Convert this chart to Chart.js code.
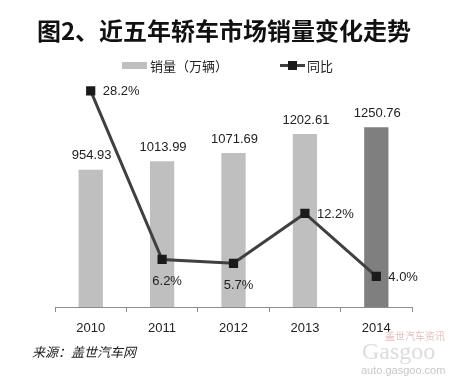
<!DOCTYPE html>
<html><head><meta charset="utf-8">
<script src="https://cdn.jsdelivr.net/npm/chart.js@4"></script>
<style>html,body{margin:0;padding:0;background:#fff;}#wrap{position:relative;width:449px;height:378px;}</style>
</head><body><div id="wrap"><canvas id="c" width="449" height="378"></canvas></div>
<script>
const categories = ['2010','2011','2012','2013','2014'];
const sales = [954.93, 1013.99, 1071.69, 1202.61, 1250.76];
const growth = [28.2, 6.2, 5.7, 12.2, 4.0];
const salesLabels = ['954.93','1013.99','1071.69','1202.61','1250.76'];
const growthLabels = ['28.2%','6.2%','5.7%','12.2%','4.0%'];
const titleText = '图2、近五年轿车市场销量变化走势';
const legendSales = '销量（万辆）';
const legendGrowth = '同比';
const sourceText = '来源：盖世汽车网';

const FONT = '"Liberation Sans", Arial, "Noto Sans CJK SC", sans-serif';
const CJK = '"Noto Sans CJK SC", "Liberation Sans", sans-serif';
const barColors = ['#BFBFBF','#BFBFBF','#BFBFBF','#BFBFBF','#7F7F7F'];
const growthBelow = [false, true, true, false, false];

const decor = {
  id: 'decor',
  afterDatasetsDraw(chart) {
    const ctx = chart.ctx;
    ctx.save();
    const barMeta = chart.getDatasetMeta(0);
    ctx.fillStyle = '#222';
    ctx.font = '13px ' + FONT;
    ctx.textAlign = 'center';
    ctx.textBaseline = 'middle';
    barMeta.data.forEach((el, i) => {
      ctx.fillText(salesLabels[i], el.x + 1, el.y - 14);
    });
    const lineMeta = chart.getDatasetMeta(1);
    lineMeta.data.forEach((el, i) => {
      if (growthBelow[i]) {
        ctx.textAlign = 'center';
        ctx.fillText(growthLabels[i], el.x + 5, el.y + 22);
      } else {
        ctx.textAlign = 'left';
        ctx.fillText(growthLabels[i], el.x + 12, el.y + 1);
      }
    });
    ctx.restore();
  },
  afterDraw(chart) {
    const ctx = chart.ctx;
    ctx.save();
    ctx.fillStyle = '#111';
    ctx.font = 'bold 24px ' + CJK;
    ctx.textAlign = 'center';
    ctx.textBaseline = 'middle';
    ctx.fillText(titleText, 224, 31);
    ctx.font = '13px ' + CJK;
    ctx.textAlign = 'left';
    ctx.fillStyle = '#BFBFBF';
    ctx.fillRect(122, 62, 25, 7);
    ctx.fillStyle = '#222';
    ctx.fillText(legendSales, 150, 66);
    ctx.strokeStyle = '#404040';
    ctx.lineWidth = 3;
    ctx.beginPath(); ctx.moveTo(280, 65.5); ctx.lineTo(305, 65.5); ctx.stroke();
    ctx.fillStyle = '#1a1a1a';
    ctx.fillRect(288, 61, 9, 9);
    ctx.fillStyle = '#222';
    ctx.fillText(legendGrowth, 307, 66);
    ctx.font = 'italic 13px ' + CJK;
    ctx.fillStyle = '#222';
    ctx.fillText(sourceText, 32, 352);
    ctx.font = '24px "Liberation Serif", serif';
    ctx.fillStyle = '#dcdcdc';
    ctx.fillText('Gasgoo', 362, 353);
    ctx.font = '10px ' + CJK;
    ctx.fillStyle = '#e6c0c0';
    ctx.fillText('盖世汽车资讯', 385, 336);
    ctx.font = '11px ' + FONT;
    ctx.fillStyle = '#c8c8c8';
    ctx.fillText('auto.gasgoo.com', 361, 371);
    ctx.restore();
  }
};

new Chart(document.getElementById('c'), {
  data: {
    labels: categories,
    datasets: [
      {
        type: 'bar', label: legendSales, data: sales, yAxisID: 'y',
        backgroundColor: barColors, borderWidth: 0,
        categoryPercentage: 1, barPercentage: 0.34, order: 1
      },
      {
        type: 'line', label: legendGrowth, data: growth, yAxisID: 'y1',
        borderColor: '#404040', borderWidth: 3, tension: 0,
        pointStyle: 'rect', pointRadius: 6.5, pointHoverRadius: 6.5,
        pointBackgroundColor: '#1a1a1a', pointBorderColor: '#1a1a1a', pointBorderWidth: 0,
        order: 0
      }
    ]
  },
  options: {
    responsive: false,
    animation: false,
    devicePixelRatio: 1,
    layout: { padding: { left: 55, right: 37, top: 77, bottom: 0 } },
    plugins: { legend: { display: false }, title: { display: false }, tooltip: { enabled: false } },
    scales: {
      x: {
        offset: true,
        grid: { offset: true, drawOnChartArea: false, drawTicks: true, tickLength: 5, color: '#8c8c8c', lineWidth: 1 },
        border: { display: true, color: '#8c8c8c', width: 1 },
        ticks: { color: '#222', font: { family: FONT, size: 13 }, padding: 9, maxRotation: 0 },
        afterFit(scale) { scale.height = 71; }
      },
      y: { display: false, min: 0, max: 1600 },
      y1: { display: false, min: 0, max: 30, position: 'right' }
    }
  },
  plugins: [decor]
});
</script></body></html>
